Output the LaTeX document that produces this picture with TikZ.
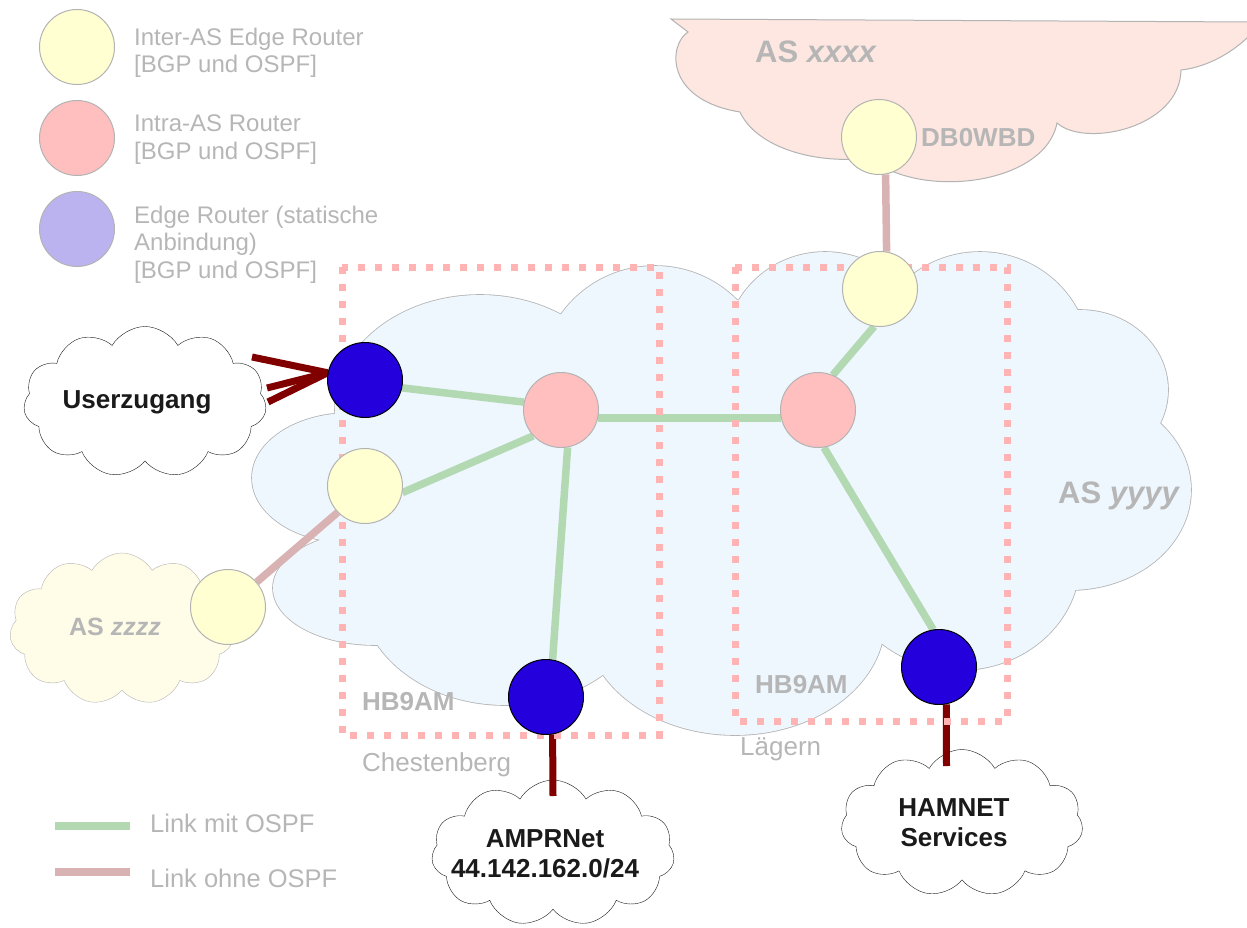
\documentclass[tikz,border=0pt]{standalone}
\usepackage{fontspec}
\setmainfont{Liberation Sans}
\usetikzlibrary{shapes.symbols}

\definecolor{rimgray}{RGB}{179,179,179}
\definecolor{txtgray}{RGB}{182,182,182}
\definecolor{txtblack}{RGB}{26,26,26}
\definecolor{interfill}{RGB}{255,255,210}
\definecolor{intrafill}{RGB}{255,191,191}
\definecolor{edgefill}{RGB}{187,179,240}
\definecolor{routerblue}{RGB}{35,0,220}
\definecolor{asblue}{RGB}{238,246,254}
\definecolor{asrose}{RGB}{253,231,224}
\definecolor{asyellow}{RGB}{255,253,232}
\definecolor{ospfgreen}{RGB}{179,217,179}
\definecolor{plainrose}{RGB}{217,179,179}
\definecolor{zonepink}{RGB}{255,179,179}
\definecolor{wirered}{RGB}{128,0,0}

\pgfdeclarelayer{back}
\pgfdeclarelayer{wires}
\pgfdeclarelayer{zones}
\pgfsetlayers{back,wires,zones,main}

\begin{document}
\begin{tikzpicture}[x=1pt,y=-1pt,
    router/.style={circle,minimum size=75pt,inner sep=0pt,draw=rimgray,line width=1pt},
    inter/.style={router,fill=interfill},
    intra/.style={router,fill=intrafill},
    statrt/.style={router,fill=routerblue,draw=black},
    ospf/.style={line width=7.5pt,draw=ospfgreen},
    noospf/.style={line width=7.5pt,draw=plainrose},
    wire/.style={line width=7pt,draw=wirered},
    zone/.style={draw=zonepink,line width=7pt,dash pattern=on 7pt off 10pt}]
  \tikzstyle{netcloud}=[cloud,cloud puffs=11,cloud puff arc=120,cloud ignores aspect,
                        draw=txtblack,fill=white,inner sep=0pt]
  \tikzstyle{cloudtxt}=[inner sep=0pt,text=txtblack,align=center,
                        font=\fontsize{26}{30}\selectfont\bfseries]
  \tikzstyle{legendtxt}=[anchor=north west,inner sep=0pt,align=left,text=txtgray,
                         font=\fontsize{24}{27.5}\selectfont]
  \tikzstyle{linktxt}=[anchor=base west,inner sep=0pt,text=txtgray,
                       font=\fontsize{25.5}{30}\selectfont]
  \tikzstyle{zonelbl}=[anchor=base west,inner sep=0pt,text=txtgray,
                       font=\fontsize{26}{30}\selectfont\bfseries]
  \tikzstyle{placelbl}=[anchor=base west,inner sep=0pt,text=txtgray,
                        font=\fontsize{26}{30}\selectfont]
  \tikzstyle{aslbl}=[anchor=base west,inner sep=0pt,text=txtgray,
                     font=\fontsize{31}{36}\selectfont\bfseries]

  \useasboundingbox (0,0) rectangle (1247,928);

  % legend
  \node[inter] (lgInter) at (77,47) {};
  \node[intra] (lgIntra) at (77,138) {};
  \node[router,fill=edgefill] (lgStat) at (77,229) {};
  \node[legendtxt] (lgInterTxt) at (134,27.5) {Inter-AS Edge Router\\{}[BGP und OSPF]};
  \node[legendtxt] (lgIntraTxt) at (134,114.8) {Intra-AS Router\\{}[BGP und OSPF]};
  \node[legendtxt] (lgStatTxt) at (134,205.5) {Edge Router (statische\\Anbindung)\\{}[BGP und OSPF]};
  \draw[ospf] (55,826) -- (130,826);
  \draw[noospf] (55,872) -- (130,872);
  \node[linktxt] (lgOspfTxt) at (150,832) {Link mit OSPF};
  \node[linktxt] (lgNoOspfTxt) at (150,887) {Link ohne OSPF};

  \begin{pgfonlayer}{back}
    % AS xxxx
    \draw[fill=asrose,draw=rimgray,line width=1pt]
      (671,19) -- (1252,22) -- (1252,33) .. controls (1228,58) and (1200,68) .. (1181,70)
      .. controls (1180,128) and (1085,148) .. (1057,123)
      .. controls (1045,185) and (920,200) .. (870,158)
      .. controls (810,165) and (755,145) .. (740,112)
      .. controls (665,100) and (668,45) .. (688,32) -- cycle;
    % AS yyyy
    \def\lobes{350/478/98/65, 375/588/102/57, 505/590/145/115, 735/620/150/115,
               960/560/120/110, 1070/490/121/100, 1080/390/88/80, 980/360/110/108,
               825/350/100/98, 655/380/115/114, 480/410/145/115}
    \foreach \cx/\cy/\rx/\ry in \lobes
      \draw[rimgray,line width=1.6pt] (\cx,\cy) ellipse [x radius=\rx pt,y radius=\ry pt];
    \foreach \cx/\cy/\rx/\ry in \lobes
      \fill[asblue] (\cx,\cy) ellipse [x radius=\rx pt,y radius=\ry pt];
    \fill[asblue] (720,470) ellipse [x radius=330pt,y radius=170pt];

    \node[netcloud,minimum width=243pt,minimum height=151pt] (user) at (145,402) {};
    \node[netcloud,minimum width=243pt,minimum height=146pt] (ampr) at (553,853) {};
    \node[netcloud,minimum width=242pt,minimum height=147pt] (ham) at (962,823) {};
    \node[netcloud,fill=asyellow,draw=rimgray,minimum width=225pt,
          minimum height=152pt] (zz) at (122,629) {};
  \end{pgfonlayer}

  \node[cloudtxt,anchor=base] (userTxt) at (137,408) {Userzugang};
  \node[cloudtxt] (amprTxt) at (545,853.5) {AMPRNet\\44.142.162.0/24};
  \node[cloudtxt] (hamTxt) at (954,823) {HAMNET\\Services};
  \node[cloudtxt,anchor=base,text=txtgray,font=\fontsize{25}{30}\selectfont\bfseries]
    (zzTxt) at (115,635) {AS \textit{zzzz}};

  % routers
  \node[statrt] (chUser) at (365,380) {};
  \node[inter]  (chInter) at (365,486) {};
  \node[intra]  (chCore) at (561,410) {};
  \node[statrt] (chAmpr) at (546,697) {};
  \node[intra]  (laCore) at (818,410) {};
  \node[inter]  (laInter) at (880,289) {};
  \node[statrt] (laHam) at (939,667) {};
  \node[inter]  (wbd) at (879,137) {};
  \node[inter]  (zzInter) at (228,607) {};

  \node[aslbl] (asX) at (755,63) {AS \textit{xxxx}};
  \node[aslbl] (asY) at (1058,503) {AS \textit{yyyy}};
  \node[zonelbl] (wbdTxt) at (921,147) {DB0WBD};
  \node[zonelbl] (chTxt) at (362,710) {HB9AM};
  \node[placelbl] (chPlace) at (362,771) {Chestenberg};
  \node[zonelbl] (laTxt) at (755,693) {HB9AM};
  \node[placelbl] (laPlace) at (740,755) {Lägern};

  \coordinate (u1) at (252,357);
  \coordinate (u2) at (267,388);
  \coordinate (u3) at (268,402);
  \coordinate (amprIn) at (553,796);
  \coordinate (hamIn) at (946.5,766);

  \begin{pgfonlayer}{wires}
    \draw[ospf] (chUser.-12) -- (chCore.168);
    \draw[ospf] (chInter.-10) -- (chCore.223);
    \draw[ospf] (chCore.-80) -- (chAmpr.80);
    \draw[ospf] (chCore.-12) -- (laCore.192);
    \draw[ospf] (laCore.67) -- (laInter.-99);
    \draw[ospf] (laCore.-81) -- (laHam.99);
    \draw[noospf] (wbd.-80) -- (laInter.80);
    \draw[noospf] (chInter.224) -- (zzInter.41);
    \draw[wire] (u1) -- (chUser.169);
    \draw[wire] (u2) -- (chUser.169);
    \draw[wire] (u3) -- (chUser.169);
    \draw[wire] (chAmpr.-80) -- (amprIn);
    \draw[wire] (laHam.-79) -- (hamIn);
  \end{pgfonlayer}

  \begin{pgfonlayer}{zones}
    \draw[zone] (342,267) rectangle (659,735);
    \draw[zone] (735,267) rectangle (1007,721);
  \end{pgfonlayer}
\end{tikzpicture}
\end{document}
